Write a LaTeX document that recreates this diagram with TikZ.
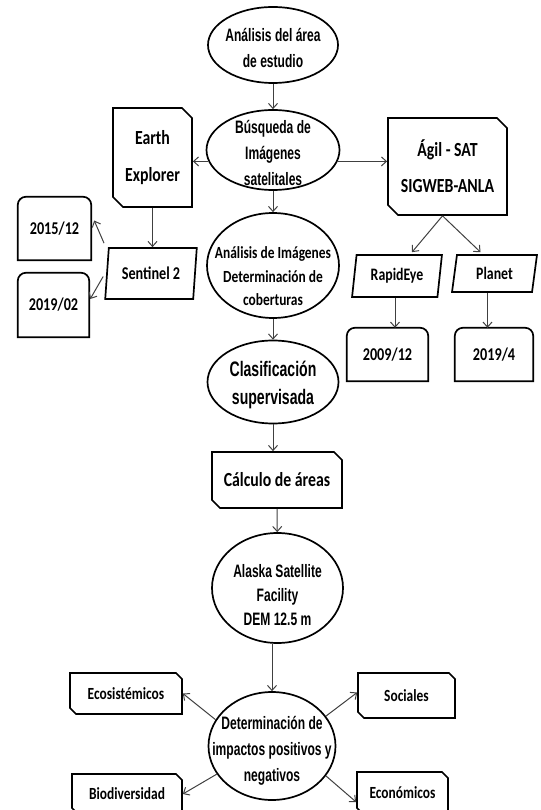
\documentclass[tikz,border=0pt]{standalone}
\usepackage{fontspec}
\usetikzlibrary{shapes.geometric,shapes.misc,arrows.meta}
\newfontfamily\narrowsf{Liberation Sans}[FakeStretch=0.67]
\newfontfamily\calsf{Carlito}[FakeStretch=0.79]
\begin{document}
\begin{tikzpicture}[x=1pt,y=-1pt,
    ell/.style={draw,ellipse,line width=1.7pt,inner sep=0pt},
    etxt/.style={align=center,inner sep=0pt,yshift=-3pt,font=\narrowsf\bfseries\fontsize{18}{26}\selectfont},
    snip/.style={draw,chamfered rectangle,chamfered rectangle corners={north east,south west},
      chamfered rectangle xsep=4pt,chamfered rectangle ysep=4pt,line width=1.7pt,
      align=center,inner sep=0pt,font=\calsf\bfseries\fontsize{20}{37}\selectfont},
    small/.style={snip,chamfered rectangle xsep=3pt,chamfered rectangle ysep=3pt,
      font=\calsf\bfseries\fontsize{17}{20}\selectfont},
    slant/.style={draw,trapezium,trapezium left angle=79,trapezium right angle=101,
      trapezium stretches=true,line width=1.7pt,inner sep=0pt,font=\calsf\bfseries\fontsize{18}{22}\selectfont},
    datebox/.style={inner sep=0pt,font=\calsf\bfseries\fontsize{18}{22}\selectfont},
    ar/.style={draw,black!75,line width=1pt,-{Straight Barb[length=5pt,width=9pt]}}
  ]
  \useasboundingbox (0,0) rectangle (540,810);
  %% main column
  \node[ell,minimum width=130pt,minimum height=76pt,
    label={[etxt]center:{Análisis del área\\de estudio}}] (e1) at (273,45) {};
  \node[ell,minimum width=133pt,minimum height=80pt,
    label={[etxt]center:{Búsqueda de\\Imágenes\\satelitales}}] (e2) at (273,150) {};
  \node[ell,minimum width=132pt,minimum height=105pt,
    label={[etxt,yshift=-8pt,font=\calsf\bfseries\fontsize{17}{23.5}\selectfont]center:{Análisis de Imágenes\\Determinación de\\coberturas}}] (e3) at (273,265.5) {};
  \node[ell,minimum width=131pt,minimum height=83pt,
    label={[etxt,font=\narrowsf\bfseries\fontsize{21}{28}\selectfont]center:{Clasificación\\supervisada}}] (e4) at (273,382) {};
  \node[snip,minimum width=130pt,minimum height=56pt] (ca) at (277,480) {Cálculo de áreas};
  \node[ell,minimum width=131pt,minimum height=110pt,
    label={[etxt,yshift=-4pt,font=\narrowsf\bfseries\fontsize{18}{24}\selectfont]center:{Alaska Satellite\\Facility\\DEM 12.5 m}}] (e5) at (277.5,588) {};
  \node[ell,minimum width=127pt,minimum height=108pt,
    label={[etxt,yshift=-2pt]center:{Determinación de\\impactos positivos y\\negativos}}] (e6) at (272,746) {};
  %% left branch
  \node[snip,minimum width=79pt,minimum height=99pt,chamfered rectangle xsep=5pt,
    chamfered rectangle ysep=5pt] (ee) at (152.5,157.5) {Earth\\Explorer};
  \node[slant,minimum width=92pt,minimum height=51pt] (se) at (151,273.5) {Sentinel 2};
  \node[datebox,minimum width=73pt,minimum height=63pt] (d1) at (54.5,228.5) {2015/12};
  \node[datebox,minimum width=71pt,minimum height=64pt] (d2) at (53.5,305) {2019/02};
  %% right branch
  \node[snip,minimum width=119pt,minimum height=97pt,chamfered rectangle xsep=5pt,
    chamfered rectangle ysep=5pt,font=\calsf\bfseries\fontsize{20}{36}\selectfont] (ag) at (447.5,166.5) {Ágil - SAT\\SIGWEB-ANLA};
  \node[slant,minimum width=90pt,minimum height=42pt,font=\calsf\bfseries\fontsize{17.5}{21}\selectfont] (re) at (397,276) {RapidEye};
  \node[slant,minimum width=85pt,minimum height=37pt,font=\calsf\bfseries\fontsize{17.5}{21}\selectfont] (pl) at (494.5,273.5) {Planet};
  \node[datebox,minimum width=81pt,minimum height=53pt] (d3) at (387.5,354.5) {2009/12};
  \node[datebox,minimum width=78pt,minimum height=53pt] (d4) at (494,354.5) {2019/4};
  \foreach \n in {d1,d2,d3,d4}
    \draw[line width=1.7pt] (\n.south west) -- ([yshift=-8pt]\n.north west)
      arc[start angle=180,end angle=90,radius=8pt] -- ([xshift=-8pt]\n.north east)
      arc[start angle=90,end angle=0,radius=8pt] -- (\n.south east) -- cycle;
  %% impacts
  \node[small,minimum width=112pt,minimum height=41pt] (ec) at (126,693.5) {Ecosistémicos};
  \node[small,minimum width=97pt,minimum height=45pt] (so) at (406.5,695.5) {Sociales};
  \node[small,minimum width=110pt,minimum height=40pt] (bi) at (127,794) {Biodiversidad};
  \node[small,minimum width=91pt,minimum height=42pt] (eco) at (402.5,793) {Económicos};
  %% connectors
  \foreach \a/\b in {e1/e2,e2/e3,e3/e4,ca/e5}
    \draw[ar] (\a) -- (\b);
  \draw[ar] (e4.south) -- (e4.south |- ca.north);
  \draw[ar] (e5.south -| e6.north) -- (e6.north);
  \draw[ar] (e2.190) -- (e2.190 -| ee.east);
  \draw[ar] (e2.350) -- (e2.350 -| ag.west);
  \draw[ar] (ee.south) -- (ee.south |- se.north);
  \draw[ar] ([shift={(-4pt,4pt)}]se.top left corner) -- ([shift={(3pt,8pt)}]d1.east);
  \draw[ar] ([shift={(-3pt,-3pt)}]se.west) -- ([shift={(1pt,6pt)}]d2.east);
  \draw[ar] ([xshift=-5pt]ag.south) -- ([xshift=15pt,yshift=2pt]re.north);
  \draw[ar] ([xshift=-5pt]ag.south) -- ([xshift=-14pt,yshift=2pt]pl.north);
  \draw[ar] ([xshift=-2pt]re.south) -- ([xshift=-2pt]re.south |- d3.north);
  \draw[ar] ([xshift=-7pt]pl.south) -- ([xshift=-7pt]pl.south |- d4.north);
  \draw[ar] (e6.155) -- (ec.east);
  \draw[ar] (e6.29) -- ([yshift=3pt]so.west);
  \draw[ar] (e6.207) -- (bi.east);
  \draw[ar] (e6.-29) -- ([yshift=-9pt]eco.west);
\end{tikzpicture}
\end{document}
